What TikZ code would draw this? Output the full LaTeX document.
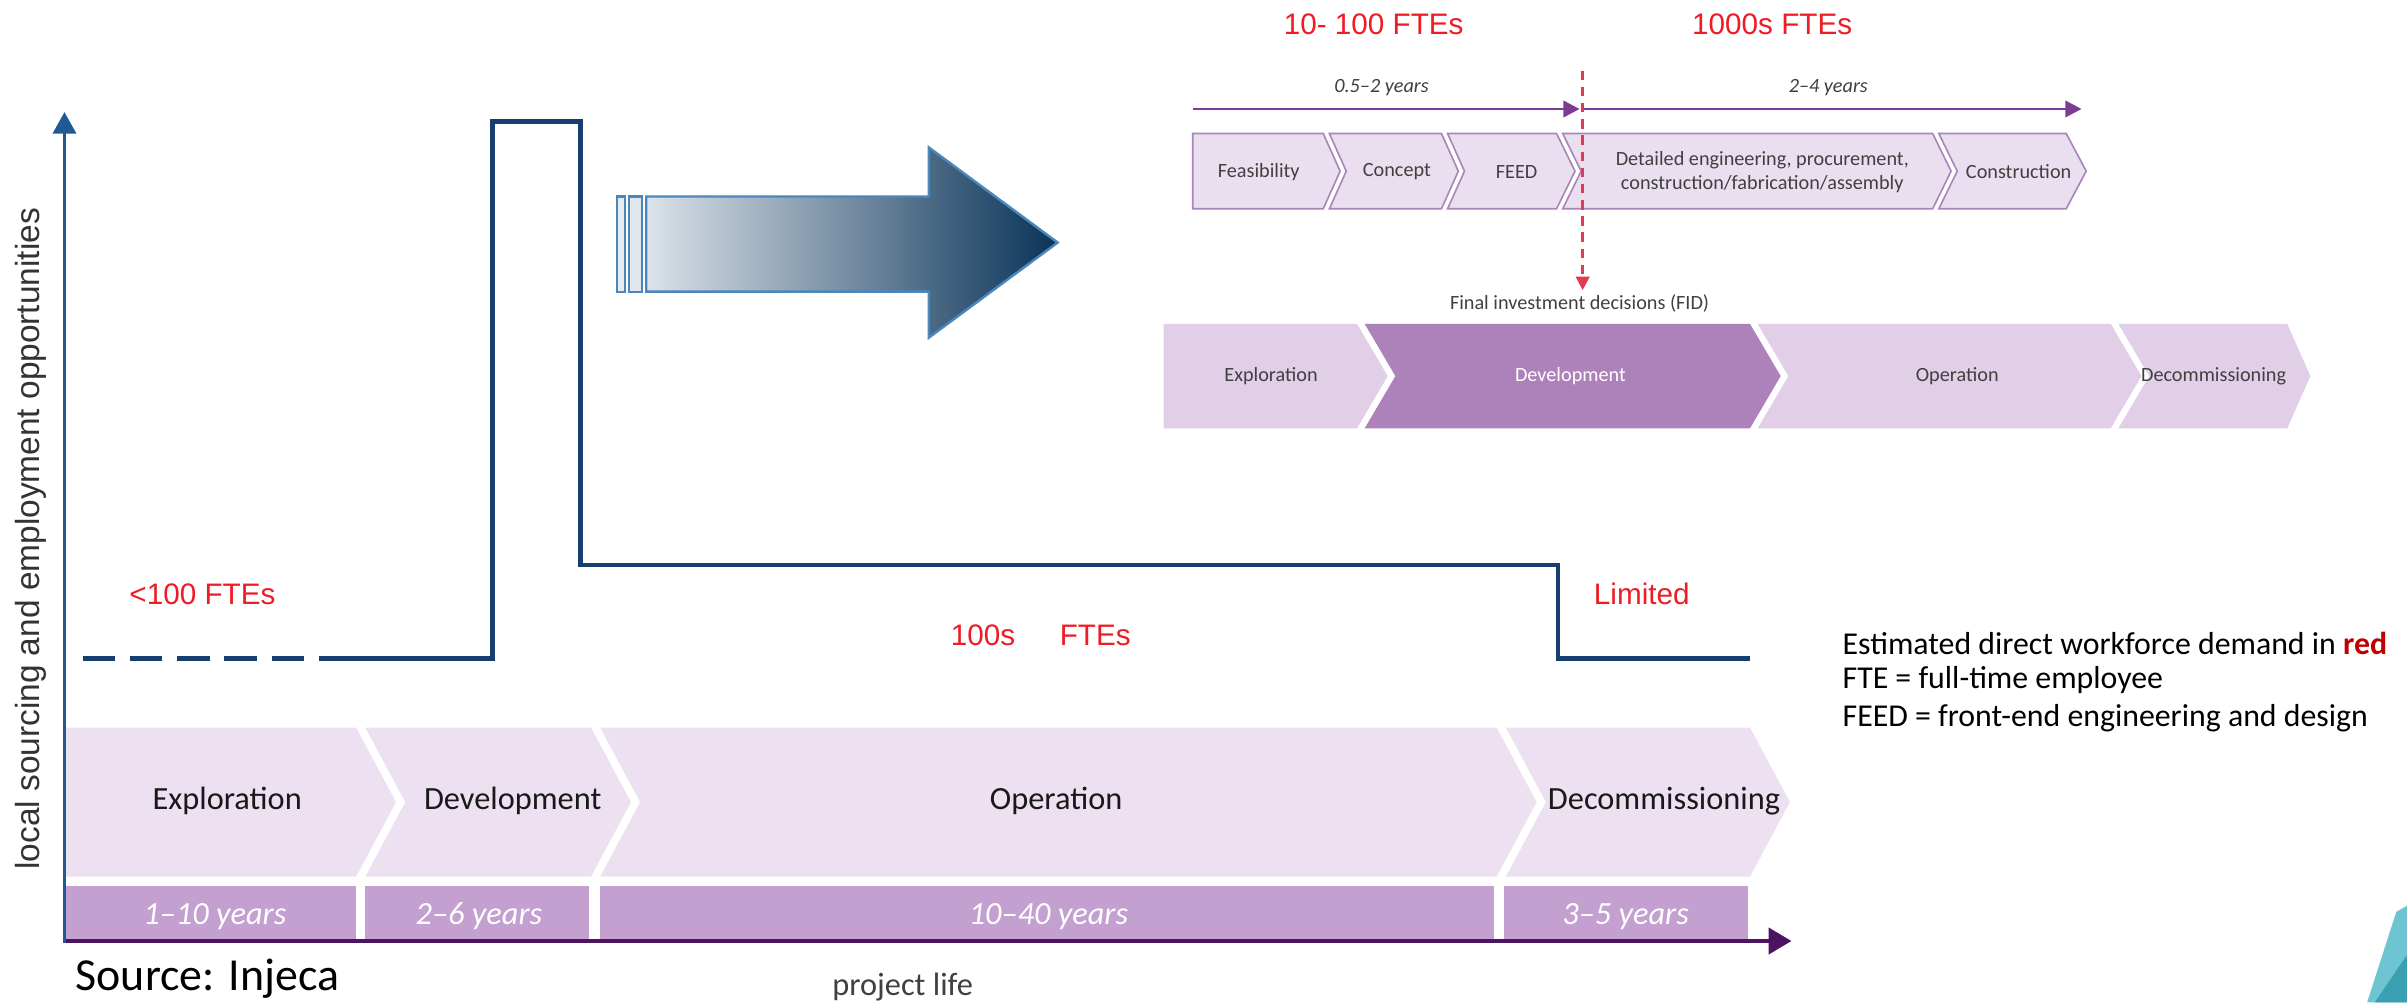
\documentclass[tikz,border=0pt]{standalone}
\usepackage{fontspec}
\setmainfont{Carlito}
\newfontfamily\arialf{Liberation Sans}
\usetikzlibrary{arrows.meta}
\definecolor{navyline}{HTML}{163E6E}
\definecolor{yaxisc}{HTML}{1F5A96}
\definecolor{xaxisc}{HTML}{4B1360}
\definecolor{bandlight}{HTML}{EDE0F0}
\definecolor{yearbar}{HTML}{C3A0CF}
\definecolor{redtxt}{HTML}{EE1C25}
\definecolor{darkred}{HTML}{C00000}
\definecolor{fidred}{HTML}{E23A52}
\definecolor{toppurple}{HTML}{7D3C93}
\definecolor{topfill}{HTML}{EADFEF}
\definecolor{topedge}{HTML}{A985B9}
\definecolor{rowlight}{HTML}{E0CFE6}
\definecolor{rowdark}{HTML}{AD82BA}
\definecolor{graytxt}{HTML}{404040}
\definecolor{arrowlight}{HTML}{DCE3EA}
\definecolor{arrowdark}{HTML}{0A3358}
\definecolor{arrowedge}{HTML}{4A87BC}
\definecolor{teallight}{HTML}{6CC5D1}
\definecolor{tealdark}{HTML}{3A9FB0}
\newcommand{\chevp}[7]{%
  \path[#1] (#2,#6) -- (#4,#6) -- ({#4+#5},{(#6+#7)/2}) -- (#4,#7) -- (#2,#7) -- ({#2+#3},{(#6+#7)/2}) -- cycle;}
\tikzset{
  redlbl/.style={font=\arialf\fontsize{11}{13}\selectfont, text=redtxt, inner sep=0pt, anchor=west},
  chevlbl/.style={font=\fontsize{12}{14}\selectfont, text=black!90, inner sep=0pt},
  yearlbl/.style={font=\itshape\fontsize{12}{14}\selectfont, text=white, inner sep=0pt},
  smalllbl/.style={font=\fontsize{7.5}{9}\selectfont, text=graytxt, inner sep=0pt},
  legendlbl/.style={font=\fontsize{11.8}{14}\selectfont, anchor=west, inner sep=0pt},
  stepline/.style={draw=navyline, line width=1.7pt},
  bandshape/.style={fill=bandlight},
  yearshape/.style={fill=yearbar},
  topchev/.style={fill=topfill, draw=topedge, line width=0.6pt},
  rowlightshape/.style={fill=rowlight},
  rowdarkshape/.style={fill=rowdark},
}
\begin{document}
\begin{tikzpicture}[x=0.02cm, y=-0.02cm]
\useasboundingbox (0,0) rectangle (1568,653);
\clip (0,0) rectangle (1568,653);
\fill[white] (0,0) rectangle (1568,653);

% ---------- bottom phase band ----------
\chevp{bandshape}{43}{0}{232}{26}{474}{571}
\chevp{bandshape}{238}{26}{385}{26}{474}{571}
\chevp{bandshape}{391}{26}{975}{26}{474}{571}
\chevp{bandshape}{981}{26}{1140}{26}{474}{571}
\node[chevlbl] (bexp) at (148,522) {Exploration};
\node[chevlbl] (bdev) at (334,522) {Development};
\node[chevlbl] (bop)  at (688,522) {Operation};
\node[chevlbl] (bdec) at (1084,522) {Decommissioning};

% year bars
\fill[yearshape] (43,577) rectangle (232,612);
\fill[yearshape] (238,577) rectangle (384,612);
\fill[yearshape] (391,577) rectangle (973,612);
\fill[yearshape] (980,577) rectangle (1139,612);
\node[yearlbl] (y1) at (140,597) {1--10 years};
\node[yearlbl] (y2) at (312,597) {2--6 years};
\node[yearlbl] (y3) at (683,597) {10--40 years};
\node[yearlbl] (y4) at (1059,597) {3--5 years};

% axes
\coordinate (xa) at (42,613);
\coordinate (xb) at (1167,613);
\draw[xaxisc, line width=1.5pt, -{Triangle[length=8.5pt,width=9.7pt]}] (xa) -- (xb);
\coordinate (yb) at (42,614);
\coordinate (yt) at (42,73);
\draw[yaxisc, line width=1.4pt, -{Triangle[length=8pt,width=8.5pt]}] (yb) -- (yt);
\node[rotate=90, font=\arialf\fontsize{12.4}{14}\selectfont, text=black!80, inner sep=0pt] (ylab) at (20,351) {local sourcing and employment opportunities};
\node[font=\fontsize{12}{14}\selectfont, text=black!75, inner sep=0pt] (xlab) at (588,643) {project life};
\node[font=\fontsize{17}{20}\selectfont, anchor=base west, inner sep=0pt] (src) at (49,645) {Source: Injeca};

% step line
\coordinate (s0) at (54,429);
\coordinate (s1) at (209,429);
\coordinate (s2) at (321,429);
\coordinate (s3) at (321,79);
\coordinate (s4) at (378,79);
\coordinate (s5) at (378,368);
\coordinate (s6) at (1015,368);
\coordinate (s7) at (1015,429);
\coordinate (s8) at (1140,429);
\draw[stepline, dash pattern=on 12pt off 5.5pt] (s0) -- (s1);
\draw[stepline] (s1) -- (s2) -- (s3) -- (s4) -- (s5) -- (s6) -- (s7) -- (s8);

% red workforce labels
\node[redlbl] (r1) at (84,387) {<100 FTEs};
\node[redlbl] (r2a) at (619,414) {100s};
\node[redlbl] (r2b) at (690,414) {FTEs};
\node[redlbl] (r3) at (1038,387) {Limited};
\node[redlbl] (r4) at (836,16) {10- 100 FTEs};
\node[redlbl] (r5) at (1102,16) {1000s FTEs};

% big gradient arrow
\draw[arrowedge, line width=0.8pt, fill=arrowlight!70!white] (402,128) rectangle (407,190);
\draw[arrowedge, line width=0.8pt, fill=arrowlight!85!white] (410,128) rectangle (418,190);
\draw[arrowedge, line width=0.9pt, left color=arrowlight, right color=arrowdark]
  (421,128) -- (605,128) -- (605,96) -- (689,158) -- (605,220) -- (605,190) -- (421,190) -- cycle;

% ---------- top-right panel ----------
\coordinate (ta0) at (777,71);
\coordinate (ta1) at (1029,71);
\coordinate (ta2) at (1032,71);
\coordinate (ta3) at (1356,71);
\draw[toppurple, line width=1.1pt, -{Triangle[length=6pt,width=6pt]}] (ta0) -- (ta1);
\draw[toppurple, line width=1.1pt, -{Triangle[length=6pt,width=6pt]}] (ta2) -- (ta3);
\node[smalllbl, font=\itshape\fontsize{7.5}{9}\selectfont] (t1) at (900,57) {0.5--2 years};
\node[smalllbl, font=\itshape\fontsize{7.5}{9}\selectfont] (t2) at (1191,57) {2--4 years};

\chevp{topchev}{777}{0}{862}{11}{87}{136}
\chevp{topchev}{866}{11}{939}{11}{87}{136}
\chevp{topchev}{943}{11}{1014}{12}{87}{136}
\chevp{topchev}{1018}{12}{1259}{12}{87}{136}
\chevp{topchev}{1263}{12}{1346}{13}{87}{136}
\node[smalllbl] (cf) at (820,112) {Feasibility};
\node[smalllbl] (cc) at (910,112) {Concept};
\node[smalllbl] (cd) at (988,112) {FEED};
\node[smalllbl, align=center] (ce) at (1148,112) {Detailed engineering, procurement,\\construction/fabrication/assembly};
\node[smalllbl] (cg) at (1315,112) {Construction};

\coordinate (fa) at (1031,46);
\coordinate (fb) at (1031,189);
\draw[fidred, line width=1pt, dash pattern=on 3.5pt off 2.5pt, -{Triangle[length=5pt,width=5pt]}] (fa) -- (fb);
\node[smalllbl] (fid) at (1029,198) {Final investment decisions (FID)};

\chevp{rowlightshape}{758}{0}{884}{20}{211}{279}
\chevp{rowdarkshape}{889}{20}{1140}{20}{211}{279}
\chevp{rowlightshape}{1145}{20}{1375}{20}{211}{279}
\chevp{rowlightshape}{1380}{20}{1490}{15}{211}{279}
\node[smalllbl] (le) at (828,245) {Exploration};
\node[smalllbl, text=white] (ld) at (1023,245) {Development};
\node[smalllbl] (lo) at (1275,245) {Operation};
\node[smalllbl] (lc) at (1442,245) {Decommissioning};

% legend
\node[legendlbl] (g1) at (1200,419) {Estimated direct workforce demand in \textbf{\color{darkred}red}};
\node[legendlbl] (g2) at (1200,443) {FTE = full-time employee};
\node[legendlbl] (g3) at (1200,468) {FEED = front-end engineering and design};

% teal corner
\fill[teallight] (1561,594) -- (1568,590) -- (1568,653) -- (1542,653) -- cycle;
\fill[tealdark] (1568,622) -- (1568,653) -- (1547,653) -- cycle;
\end{tikzpicture}
\end{document}
